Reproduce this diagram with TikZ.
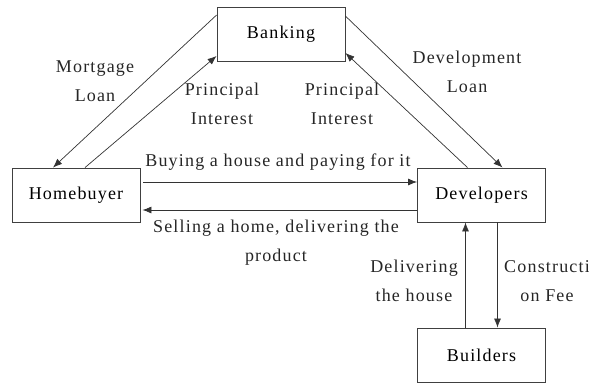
\documentclass[tikz,border=0pt]{standalone}
\usepackage{fontspec}
\setmainfont[LetterSpace=6.5]{Liberation Serif}
\usetikzlibrary{arrows.meta,positioning}

\tikzset{
  party/.style={draw=black!75, line width=0.9pt, minimum width=128pt, minimum height=54pt, inner sep=0pt},
  flow/.style={draw=black!80, line width=0.7pt, -{Latex[length=9pt,width=7pt]}},
  flowtext/.style={align=center, inner sep=1pt, text=black!85}
}

\begin{document}
\begin{tikzpicture}[x=1pt, y=-1pt, every node/.style={font=\fontsize{18}{29}\selectfont}]
        \useasboundingbox (0,0) rectangle (589,384);
        % The four parties
        \node[party] (bank)  at (281,34.5)  {Banking};
        \node[party] (buyer) at (76,195)    {Homebuyer};
        \node[party] (dev)   at (481.5,195) {Developers};
        \node[party] (build) at (481.5,355) {Builders};
        % Bank <-> homebuyer
        \draw[flow] ([yshift=-8pt]bank.north west) -- ([xshift=-23pt]buyer.north);
        \draw[flow] ([xshift=9pt]buyer.north) -- ([yshift=6pt]bank.south west);
        % Bank <-> developers
        \draw[flow] ([yshift=-9pt]bank.north east) -- ([xshift=21pt]dev.north);
        \draw[flow] ([xshift=-14pt]dev.north) -- ([yshift=9pt]bank.south east);
        % Homebuyer <-> developers
        \draw[flow] ([xshift=3pt,yshift=13pt]buyer.east) -- ([yshift=13pt]dev.west);
        \draw[flow] ([yshift=-15pt]dev.west) -- ([xshift=2pt,yshift=-15pt]buyer.east);
        % Developers <-> builders
        \draw[flow] ([xshift=-16pt]build.north) -- ([xshift=-16pt]dev.south);
        \draw[flow] ([xshift=16pt]dev.south) -- ([xshift=16pt]build.north);
        % Labels
        \node[flowtext] (mloan)  at (95,81)   {Mortgage\\Loan};
        \node[flowtext] (pintl)  at (222,104) {Principal\\Interest};
        \node[flowtext] (pintr)  at (342,104) {Principal\\Interest};
        \node[flowtext] (dloan)  at (467,72)  {Development\\Loan};
        \node[flowtext] (buying) at (278,162) {Buying a house and paying for it};
        \node[flowtext] (sell)   at (276,243) {Selling a home, delivering the\\product};
        \node[flowtext] (deliv)  at (414,281) {Delivering\\the house};
        \node[flowtext] (cfee)   at (547,281) {Constructi\\on Fee};
    \end{tikzpicture}
\end{document}
